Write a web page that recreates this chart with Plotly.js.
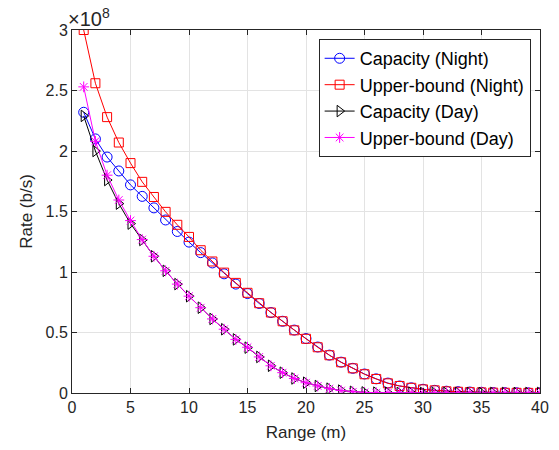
<!DOCTYPE html>
<html>
<head>
<meta charset="utf-8">
<script src="https://cdn.plot.ly/plotly-3.0.1.min.js"></script>
<style>html,body{margin:0;padding:0;background:#fff;}#chart{width:559px;height:450px;}</style>
</head>
<body>
<div id="chart"></div>
<script>
// Range (m)
const range = [1,2,3,4,5,6,7,8,9,10,11,12,13,14,15,16,17,18,19,20,21,22,23,24,25,26,27,28,29,30,31,32,33,34,35,36,37,38,39,40];
// Rate in units of 1e8 b/s
const capacityNight = [2.32,2.10,1.95,1.835,1.72,1.625,1.53,1.43,1.335,1.247,1.16,1.075,0.985,0.90,0.822,0.74,0.665,0.593,0.52,0.45,0.38,0.313,0.255,0.204,0.157,0.117,0.082,0.058,0.043,0.031,0.022,0.015,0.011,0.008,0.006,0.004,0.003,0.002,0.0015,0.001];
const upperNight = [3.0,2.56,2.28,2.07,1.90,1.745,1.62,1.497,1.39,1.29,1.18,1.087,0.995,0.91,0.828,0.742,0.665,0.593,0.518,0.448,0.378,0.312,0.254,0.204,0.155,0.116,0.08,0.058,0.043,0.03,0.022,0.014,0.01,0.007,0.005,0.003,0.002,0.0015,0.001,0.001];
const capacityDay = [2.29,2.00,1.76,1.565,1.40,1.265,1.13,1.01,0.90,0.80,0.705,0.612,0.527,0.443,0.375,0.298,0.225,0.168,0.12,0.085,0.058,0.036,0.02,0.01,0.005,0.003,0.002,0.001,0.001,0.0005,0.0005,0,0,0,0,0,0,0,0,0];
const upperDay = [2.53,2.08,1.80,1.595,1.425,1.268,1.13,1.01,0.90,0.80,0.705,0.612,0.527,0.443,0.378,0.298,0.225,0.168,0.12,0.085,0.058,0.036,0.02,0.01,0.005,0.003,0.002,0.001,0.001,0.0005,0.0005,0,0,0,0,0,0,0,0,0];
const names = ["Capacity (Night)","Upper-bound (Night)","Capacity (Day)","Upper-bound (Day)"];
const xTicks = [0,5,10,15,20,25,30,35,40];
const yTicks = [0,0.5,1,1.5,2,2.5,3];

const series = [capacityNight, upperNight, capacityDay, upperDay];
const colors = ["#0000ff","#ff0000","#000000","#ff00ff"];
const symbols = ["circle-open","square-open","triangle-right-open","asterisk-open"];
const sizes = [10,9,10,9];

const traces = series.map((ys,i)=>({
  x: range, y: ys, name: names[i], type:'scatter', mode:'lines+markers',
  line:{color:colors[i], width:1},
  marker:{symbol:symbols[i], size:sizes[i], color:colors[i], line:{color:colors[i], width:1}}
}));

const font = "Liberation Sans, Arial, sans-serif";
const axisCommon = {
  showline:true, mirror:'ticks', linecolor:'#262626', linewidth:1,
  ticks:'inside', ticklen:5, tickcolor:'#262626',
  showgrid:true, gridcolor:'#e3e3e3', gridwidth:1, zeroline:false,
  tickfont:{family:font, size:16, color:'#262626'}
};
const layout = {
  width:559, height:450,
  margin:{l:72, r:19, t:30, b:57},
  paper_bgcolor:'#fff', plot_bgcolor:'#fff',
  font:{family:font, color:'#262626'},
  xaxis: Object.assign({}, axisCommon, {range:[0,40], tickvals:xTicks, ticktext:xTicks.map(String),
    title:{text:'Range (m)', font:{family:font, size:17, color:'#262626'}, standoff:10}}),
  yaxis: Object.assign({}, axisCommon, {range:[0,3], tickvals:yTicks, ticktext:yTicks.map(String),
    title:{text:'Rate (b/s)', font:{family:font, size:17, color:'#262626'}, standoff:8}}),
  showlegend:true,
  legend:{x:0.98, y:0.975, xanchor:'right', yanchor:'top', bgcolor:'#fff', bordercolor:'#262626', borderwidth:1,
    font:{family:font, size:18, color:'#000'}, tracegroupgap:0, itemwidth:30},
  annotations:[{xref:'paper', yref:'paper', x:-0.012, y:0.995, xanchor:'left', yanchor:'bottom', showarrow:false,
    text:'×10<sup>8</sup>', font:{family:font, size:20, color:'#262626'}}]
};
Plotly.newPlot('chart', traces, layout, {displayModeBar:false, staticPlot:true});
</script>
</body>
</html>
